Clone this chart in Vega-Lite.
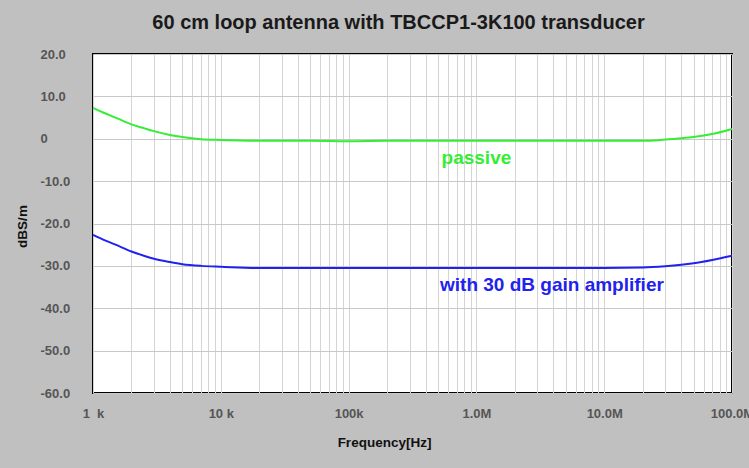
{
  "$schema": "https://vega.github.io/schema/vega-lite/v6.json",
  "width": 639,
  "height": 339,
  "autosize": {"type": "none"},
  "padding": {"left": 93, "top": 54, "right": 17, "bottom": 75},
  "background": "#c0c0c0",
  "config": {
    "view": {"fill": "white", "stroke": "black", "strokeWidth": 2},
    "font": "Liberation Sans"
  },
  "title": {
    "text": "60 cm loop antenna with TBCCP1-3K100 transducer",
    "fontSize": 20,
    "fontWeight": "bold",
    "font": "Liberation Sans",
    "color": "#1a1a1a",
    "anchor": "middle",
    "frame": "group",
    "dx": -14,
    "offset": 15
  },
  "layer": [
    {
      "data": {
        "values": [
          {"freq": 1000, "value": 7.3, "series": "passive"},
          {"freq": 1200, "value": 6.2, "series": "passive"},
          {"freq": 1500, "value": 5.0, "series": "passive"},
          {"freq": 2000, "value": 3.4, "series": "passive"},
          {"freq": 2500, "value": 2.5, "series": "passive"},
          {"freq": 3000, "value": 1.8, "series": "passive"},
          {"freq": 4000, "value": 0.9, "series": "passive"},
          {"freq": 5000, "value": 0.4, "series": "passive"},
          {"freq": 7000, "value": -0.1, "series": "passive"},
          {"freq": 10000, "value": -0.3, "series": "passive"},
          {"freq": 20000, "value": -0.5, "series": "passive"},
          {"freq": 50000, "value": -0.5, "series": "passive"},
          {"freq": 100000, "value": -0.6, "series": "passive"},
          {"freq": 200000, "value": -0.5, "series": "passive"},
          {"freq": 1000000, "value": -0.5, "series": "passive"},
          {"freq": 10000000, "value": -0.5, "series": "passive"},
          {"freq": 20000000, "value": -0.5, "series": "passive"},
          {"freq": 30000000, "value": -0.2, "series": "passive"},
          {"freq": 40000000, "value": 0.1, "series": "passive"},
          {"freq": 50000000, "value": 0.4, "series": "passive"},
          {"freq": 70000000, "value": 1.1, "series": "passive"},
          {"freq": 100000000, "value": 2.3, "series": "passive"},
          {"freq": 1000, "value": -22.7, "series": "amp"},
          {"freq": 1200, "value": -23.8, "series": "amp"},
          {"freq": 1500, "value": -25.0, "series": "amp"},
          {"freq": 2000, "value": -26.6, "series": "amp"},
          {"freq": 2500, "value": -27.6, "series": "amp"},
          {"freq": 3000, "value": -28.3, "series": "amp"},
          {"freq": 4000, "value": -29.1, "series": "amp"},
          {"freq": 5000, "value": -29.6, "series": "amp"},
          {"freq": 7000, "value": -30.0, "series": "amp"},
          {"freq": 10000, "value": -30.2, "series": "amp"},
          {"freq": 20000, "value": -30.5, "series": "amp"},
          {"freq": 100000, "value": -30.5, "series": "amp"},
          {"freq": 1000000, "value": -30.5, "series": "amp"},
          {"freq": 10000000, "value": -30.5, "series": "amp"},
          {"freq": 20000000, "value": -30.4, "series": "amp"},
          {"freq": 30000000, "value": -30.1, "series": "amp"},
          {"freq": 50000000, "value": -29.4, "series": "amp"},
          {"freq": 70000000, "value": -28.6, "series": "amp"},
          {"freq": 100000000, "value": -27.6, "series": "amp"}
        ]
      },
      "mark": {"type": "line", "strokeWidth": 2, "interpolate": "monotone"},
      "encoding": {
        "x": {
          "field": "freq",
          "type": "quantitative",
          "scale": {"type": "log", "domain": [1000, 100000000], "nice": false},
          "axis": {
            "values": [1000, 2000, 3000, 4000, 5000, 6000, 7000, 8000, 9000,
                       10000, 20000, 30000, 40000, 50000, 60000, 70000, 80000, 90000,
                       100000, 200000, 300000, 400000, 500000, 600000, 700000, 800000, 900000,
                       1000000, 2000000, 3000000, 4000000, 5000000, 6000000, 7000000, 8000000, 9000000,
                       10000000, 20000000, 30000000, 40000000, 50000000, 60000000, 70000000, 80000000, 90000000,
                       100000000],
            "labelExpr": "datum.value==1000?'1\u00a0\u00a0k':datum.value==10000?'10 k':datum.value==100000?'100k':datum.value==1000000?'1.0M':datum.value==10000000?'10.0M':datum.value==100000000?'100.0M':''",
            "labelOverlap": false,
            "labelFlush": false,
            "labelFont": "Liberation Sans",
            "labelFontSize": 13,
            "labelFontWeight": "bold",
            "labelColor": "#555555",
            "labelPadding": 14,
            "ticks": false,
            "tickSize": 0,
            "domain": false,
            "grid": true,
            "gridColor": "#d4d4d4",
            "gridWidth": 1,
            "title": "Frequency[Hz]",
            "titleFont": "Liberation Sans",
            "titleFontSize": 13.5,
            "titleFontWeight": "bold",
            "titleColor": "#111111",
            "titleX": 291,
            "titleY": 49,
            "titleAlign": "center",
            "titleBaseline": "middle"
          }
        },
        "y": {
          "field": "value",
          "type": "quantitative",
          "scale": {"domain": [-60, 20], "nice": false},
          "axis": {
            "values": [-60, -50, -40, -30, -20, -10, 0, 10, 20],
            "labelExpr": "datum.value==0?'0':(datum.value<0?'-':'')+format(abs(datum.value),'.1f')",
            "labelFont": "Liberation Sans",
            "labelFontSize": 13,
            "labelFontWeight": "bold",
            "labelColor": "#555555",
            "labelAlign": "left",
            "labelPadding": 53,
            "ticks": false,
            "tickSize": 0,
            "domain": false,
            "grid": true,
            "gridColor": "#c8c8c8",
            "gridWidth": 1,
            "title": "dBS/m",
            "titleFont": "Liberation Sans",
            "titleFontSize": 13.5,
            "titleFontWeight": "bold",
            "titleColor": "#111111",
            "titleX": -71,
            "titleY": 172,
            "titleAlign": "center",
            "titleBaseline": "middle"
          }
        },
        "color": {
          "field": "series",
          "type": "nominal",
          "scale": {"domain": ["passive", "amp"], "range": ["#33ee33", "#2222ee"]},
          "legend": null
        }
      }
    },
    {
      "data": {
        "values": [
          {"freq": 1000000, "value": -4.5, "series": "passive", "label": "passive"},
          {"freq": 3900000, "value": -34.5, "series": "amp", "label": "with 30 dB gain amplifier"}
        ]
      },
      "mark": {"type": "text", "fontSize": 19, "fontWeight": "bold", "font": "Liberation Sans", "align": "center", "baseline": "middle"},
      "encoding": {
        "x": {"field": "freq", "type": "quantitative"},
        "y": {"field": "value", "type": "quantitative"},
        "text": {"field": "label"},
        "color": {"field": "series", "type": "nominal", "legend": null}
      }
    }
  ]
}
